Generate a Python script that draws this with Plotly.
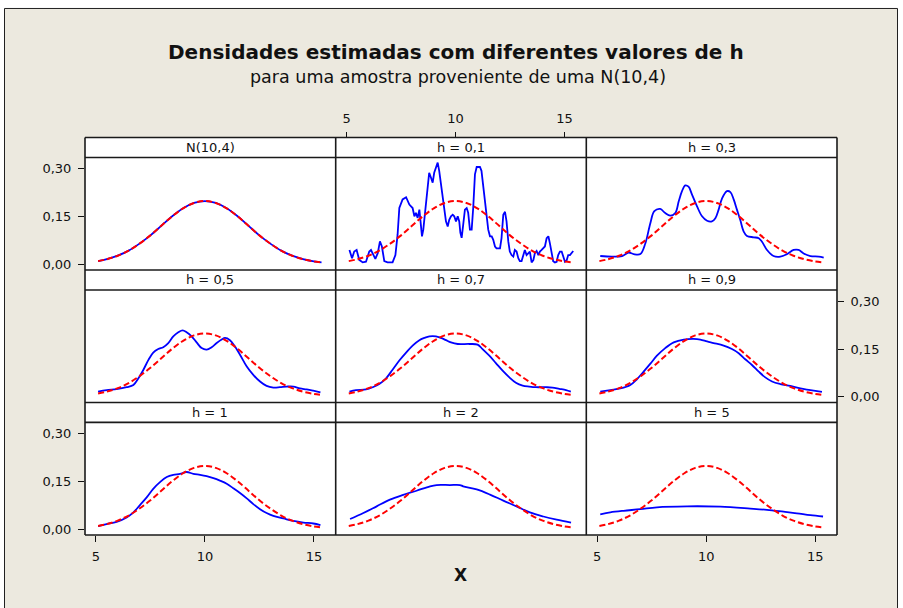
import plotly.graph_objects as go

# ---------------------------------------------------------------- data
# reference density N(10,4) evaluated along the sample range
grid_x = [5.1, 5.5, 6.0, 6.5, 7.0, 7.5, 8.0, 8.5, 9.0, 9.5, 10.0, 10.5,
          11.0, 11.5, 12.0, 12.5, 13.0, 13.5, 14.0, 14.5, 15.0, 15.35]
true_density = [0.010, 0.016, 0.027, 0.043, 0.065, 0.091, 0.121, 0.151,
                0.176, 0.193, 0.199, 0.193, 0.176, 0.151, 0.121, 0.091,
                0.065, 0.043, 0.027, 0.016, 0.009, 0.006]

# kernel density estimates for each bandwidth h
kde_h01_x = [5.13, 5.25, 5.35, 5.46, 5.58, 5.74, 5.89, 6.04, 6.12, 6.23, 6.32,
             6.43, 6.53, 6.62, 6.73, 6.88, 7.11, 7.24, 7.34, 7.42, 7.57, 7.73,
             7.88, 8.03, 8.11, 8.18, 8.26, 8.34, 8.41, 8.46, 8.52, 8.61, 8.72,
             8.79, 8.87, 8.95, 9.02, 9.10, 9.18, 9.25, 9.33, 9.41, 9.48, 9.56,
             9.64, 9.71, 9.79, 9.87, 9.94, 10.02, 10.10, 10.17, 10.22, 10.28,
             10.35, 10.43, 10.51, 10.58, 10.66, 10.74, 10.81, 10.89, 10.97,
             11.12, 11.19, 11.27, 11.35, 11.43, 11.50, 11.58, 11.66, 11.73,
             11.81, 11.88, 12.04, 12.11, 12.19, 12.27, 12.34, 12.42, 12.49,
             12.57, 12.65, 12.72, 12.80, 12.88, 12.95, 13.03, 13.11, 13.18,
             13.26, 13.34, 13.41, 13.49, 13.57, 13.64, 13.72, 13.80, 13.87,
             13.95, 14.03, 14.10, 14.18, 14.26, 14.33, 14.41, 14.48, 14.56,
             14.64, 14.71, 14.79, 14.87, 14.94, 15.02, 15.10, 15.17, 15.25,
             15.33, 15.40]
kde_h01_y = [0.045, 0.019, 0.040, 0.045, 0.014, 0.006, 0.008, 0.040, 0.045,
             0.029, 0.017, 0.035, 0.072, 0.056, 0.010, 0.006, 0.006, 0.029,
             0.093, 0.177, 0.204, 0.211, 0.188, 0.177, 0.151, 0.162, 0.146,
             0.172, 0.109, 0.088, 0.109, 0.177, 0.257, 0.288, 0.273, 0.257,
             0.288, 0.304, 0.320, 0.294, 0.251, 0.199, 0.172, 0.135, 0.119,
             0.140, 0.151, 0.156, 0.151, 0.135, 0.151, 0.135, 0.100, 0.083,
             0.124, 0.172, 0.177, 0.162, 0.109, 0.109, 0.177, 0.283, 0.306,
             0.306, 0.294, 0.241, 0.199, 0.146, 0.109, 0.088, 0.088, 0.077,
             0.056, 0.050, 0.050, 0.082, 0.156, 0.165, 0.135, 0.072, 0.040,
             0.029, 0.024, 0.045, 0.040, 0.019, 0.010, 0.010, 0.029, 0.045,
             0.029, 0.035, 0.040, 0.006, 0.013, 0.035, 0.042, 0.029, 0.040,
             0.045, 0.050, 0.056, 0.082, 0.088, 0.066, 0.029, 0.010, 0.006,
             0.008, 0.029, 0.040, 0.040, 0.024, 0.008, 0.013, 0.029, 0.029,
             0.038, 0.042]

kde_h03_x = [5.14, 5.68, 6.14, 6.44, 6.67, 6.98, 7.21, 7.44, 7.62, 7.89, 8.12,
             8.35, 8.58, 8.74, 8.89, 9.04, 9.19, 9.35, 9.58, 9.81, 10.04,
             10.26, 10.42, 10.57, 10.72, 10.95, 11.11, 11.26, 11.41, 11.56,
             11.72, 11.87, 12.18, 12.41, 12.56, 12.79, 13.09, 13.40, 13.70,
             14.01, 14.24, 14.47, 14.78, 15.16, 15.39]
kde_h03_y = [0.026, 0.024, 0.026, 0.037, 0.032, 0.032, 0.066, 0.130, 0.167,
             0.174, 0.161, 0.153, 0.161, 0.198, 0.230, 0.248, 0.244, 0.219,
             0.182, 0.151, 0.137, 0.135, 0.145, 0.172, 0.206, 0.230, 0.227,
             0.204, 0.172, 0.140, 0.103, 0.089, 0.085, 0.082, 0.071, 0.045,
             0.026, 0.024, 0.032, 0.045, 0.045, 0.034, 0.026, 0.024, 0.021]

kde_h05_x = [5.10, 5.49, 5.95, 6.41, 6.72, 6.95, 7.18, 7.41, 7.63, 7.86, 8.09,
             8.32, 8.55, 8.78, 8.98, 9.16, 9.39, 9.62, 9.85, 10.08, 10.31,
             10.54, 10.77, 10.92, 11.15, 11.38, 11.61, 11.92, 12.22, 12.53,
             12.83, 13.14, 13.44, 13.75, 14.06, 14.36, 14.67, 14.97, 15.30]
kde_h05_y = [0.016, 0.021, 0.024, 0.030, 0.037, 0.058, 0.085, 0.116, 0.139,
             0.150, 0.156, 0.169, 0.190, 0.203, 0.209, 0.203, 0.190, 0.171,
             0.153, 0.148, 0.156, 0.169, 0.180, 0.185, 0.178, 0.158, 0.132,
             0.095, 0.069, 0.048, 0.034, 0.029, 0.030, 0.032, 0.032, 0.026,
             0.023, 0.019, 0.014]

kde_h07_x = [5.13, 5.43, 5.89, 6.20, 6.50, 6.81, 7.11, 7.42, 7.73, 8.03, 8.34,
             8.57, 8.80, 9.10, 9.33, 9.56, 9.79, 10.10, 10.63, 11.01, 11.24,
             11.55, 11.85, 12.16, 12.47, 12.77, 13.08, 13.38, 13.69, 14.15,
             14.45, 14.76, 15.07, 15.29]
kde_h07_y = [0.016, 0.021, 0.023, 0.030, 0.040, 0.058, 0.085, 0.114, 0.139,
             0.161, 0.178, 0.185, 0.190, 0.190, 0.185, 0.178, 0.171, 0.166,
             0.166, 0.164, 0.150, 0.129, 0.106, 0.082, 0.061, 0.044, 0.035,
             0.032, 0.030, 0.030, 0.029, 0.025, 0.021, 0.016]

kde_h09_x = [5.14, 5.60, 6.06, 6.52, 6.82, 7.13, 7.44, 7.74, 8.12, 8.51, 8.97,
             9.42, 9.73, 10.04, 10.34, 10.80, 11.18, 11.49, 11.79, 12.10,
             12.41, 12.71, 13.02, 13.40, 13.86, 14.32, 14.78, 15.31]
kde_h09_y = [0.016, 0.021, 0.026, 0.037, 0.055, 0.079, 0.104, 0.129, 0.153,
             0.171, 0.180, 0.182, 0.180, 0.174, 0.169, 0.161, 0.150, 0.137,
             0.118, 0.100, 0.079, 0.061, 0.048, 0.040, 0.034, 0.026, 0.021,
             0.015]

kde_h1_x = [5.10, 5.49, 5.95, 6.41, 6.72, 7.02, 7.33, 7.63, 7.94, 8.25, 8.55,
            8.86, 9.16, 9.47, 9.78, 10.08, 10.39, 10.69, 11.00, 11.30, 11.61,
            11.92, 12.22, 12.53, 12.83, 13.14, 13.60, 14.06, 14.52, 14.97,
            15.30]
kde_h1_y = [0.010, 0.016, 0.023, 0.037, 0.053, 0.076, 0.100, 0.127, 0.148,
            0.164, 0.171, 0.174, 0.180, 0.174, 0.171, 0.167, 0.161, 0.153,
            0.143, 0.129, 0.114, 0.097, 0.079, 0.063, 0.051, 0.042, 0.034,
            0.026, 0.021, 0.018, 0.013]

kde_h2_x = [5.16, 5.77, 6.38, 6.99, 7.60, 8.21, 8.83, 9.13, 9.74, 10.20,
            10.35, 10.97, 11.58, 12.19, 12.80, 13.41, 14.03, 14.64, 15.30]
kde_h2_y = [0.032, 0.051, 0.072, 0.093, 0.108, 0.121, 0.135, 0.139, 0.139,
            0.139, 0.135, 0.125, 0.109, 0.090, 0.072, 0.053, 0.040, 0.030,
            0.021]

kde_h5_x = [5.14, 5.60, 6.21, 6.98, 7.74, 9.12, 10.65, 12.02, 12.79, 13.55,
            14.16, 14.78, 15.36]
kde_h5_y = [0.047, 0.053, 0.058, 0.063, 0.069, 0.072, 0.071, 0.065, 0.061,
            0.055, 0.050, 0.044, 0.040]

panel_titles = ["N(10,4)", "h = 0,1", "h = 0,3",
                "h = 0,5", "h = 0,7", "h = 0,9",
                "h = 1", "h = 2", "h = 5"]
x_ticks = [5, 10, 15]
x_tick_text = ["5", "10", "15"]
y_ticks = [0.0, 0.15, 0.30]
y_tick_text = ["0,00", "0,15", "0,30"]

title_text = "Densidades estimadas com diferentes valores de h"
subtitle_text = "para uma amostra proveniente de uma N(10,4)"
x_label = "X"

# ---------------------------------------------------------------- layout
W, H = 903, 608
FONT = "DejaVu Sans"
BEIGE = "#ECE9DF"
FRAME = "#1a1a1a"

COL_EDGES = [85.0, 335.7, 586.3, 837.0]
ROW_TOP = 138.0
ROW_H = 132.9
STRIP_H = 20.0
X_RANGE = [4.5, 16.0]
Y_RANGE = [-0.018, 0.336]


def fx(px):
    return px / W


def fy(py):
    return 1.0 - py / H


panels = [
    (grid_x, true_density, "spline"),
    (kde_h01_x, kde_h01_y, "linear"),
    (kde_h03_x, kde_h03_y, "spline"),
    (kde_h05_x, kde_h05_y, "spline"),
    (kde_h07_x, kde_h07_y, "spline"),
    (kde_h09_x, kde_h09_y, "spline"),
    (kde_h1_x, kde_h1_y, "spline"),
    (kde_h2_x, kde_h2_y, "spline"),
    (kde_h5_x, kde_h5_y, "spline"),
]

fig = go.Figure()
layout_axes = {}
shapes = []
annotations = []

# beige page with thin outer frame
shapes.append(dict(type="rect", xref="paper", yref="paper",
                   x0=fx(4.5), x1=fx(897.5), y0=fy(620), y1=fy(8.5),
                   fillcolor=BEIGE, line=dict(color="#202020", width=1),
                   layer="below"))
# white panel area
shapes.append(dict(type="rect", xref="paper", yref="paper",
                   x0=fx(COL_EDGES[0]), x1=fx(COL_EDGES[3]),
                   y0=fy(ROW_TOP + 3 * ROW_H), y1=fy(ROW_TOP),
                   fillcolor="white", line=dict(width=0), layer="below"))

tick_font = dict(family=FONT, size=13, color="#111")

for i, (px_, py_, shp) in enumerate(panels):
    r, c = divmod(i, 3)
    k = "" if i == 0 else str(i + 1)
    top = ROW_TOP + r * ROW_H
    plot_top = top + STRIP_H
    plot_bot = top + ROW_H

    fig.add_trace(go.Scatter(x=px_, y=py_, mode="lines", line_shape=shp,
                             line=dict(color="#0000FF", width=1.8),
                             xaxis="x" + k, yaxis="y" + k,
                             showlegend=False, hoverinfo="skip"))
    fig.add_trace(go.Scatter(x=grid_x, y=true_density, mode="lines",
                             line_shape="spline",
                             line=dict(color="#FF0000", width=2,
                                       dash="6px,3px"),
                             xaxis="x" + k, yaxis="y" + k,
                             showlegend=False, hoverinfo="skip"))

    xa = dict(domain=[fx(COL_EDGES[c]), fx(COL_EDGES[c + 1])],
              range=X_RANGE, showgrid=False, zeroline=False, showline=False,
              anchor="y" + k, fixedrange=True, showticklabels=False,
              ticks="")
    ya = dict(domain=[fy(plot_bot), fy(plot_top)], range=Y_RANGE,
              showgrid=False, zeroline=False, showline=False,
              anchor="x" + k, fixedrange=True, showticklabels=False,
              ticks="")

    xtick_style = dict(tickvals=x_ticks, ticktext=x_tick_text, ticks="outside",
                       ticklen=6, tickwidth=1, tickcolor="#111",
                       showticklabels=True, tickfont=tick_font,
                       ticklabelstandoff=3)
    ytick_style = dict(tickvals=y_ticks, ticktext=y_tick_text, ticks="outside",
                       ticklen=6, tickwidth=1, tickcolor="#111",
                       showticklabels=True, tickfont=tick_font,
                       ticklabelstandoff=4)

    # alternating axes, Minitab panel style
    if r == 2 and c in (0, 2):
        xa.update(xtick_style)
    if r == 0 and c == 1:
        xa.update(xtick_style)
        xa.update(side="top", anchor="free", position=fy(ROW_TOP))
    if c == 0 and r in (0, 2):
        ya.update(ytick_style)
    if c == 2 and r == 1:
        ya.update(ytick_style)
        ya.update(side="right")

    layout_axes["xaxis" + k] = xa
    layout_axes["yaxis" + k] = ya

    # strip label
    annotations.append(dict(text=panel_titles[i], xref="paper", yref="paper",
                            x=fx((COL_EDGES[c] + COL_EDGES[c + 1]) / 2),
                            y=fy(top + STRIP_H / 2), xanchor="center",
                            yanchor="middle", showarrow=False,
                            font=dict(family=FONT, size=13, color="#111")))

# panel frame lines
line_style = dict(color=FRAME, width=1.6)
for r in range(3):
    top = ROW_TOP + r * ROW_H
    for yy in (top, top + STRIP_H):
        shapes.append(dict(type="line", xref="paper", yref="paper",
                           x0=fx(COL_EDGES[0]), x1=fx(COL_EDGES[3]),
                           y0=fy(yy), y1=fy(yy), line=line_style,
                           layer="above"))
shapes.append(dict(type="line", xref="paper", yref="paper",
                   x0=fx(COL_EDGES[0]), x1=fx(COL_EDGES[3]),
                   y0=fy(ROW_TOP + 3 * ROW_H), y1=fy(ROW_TOP + 3 * ROW_H),
                   line=line_style, layer="above"))
for xx in COL_EDGES:
    shapes.append(dict(type="line", xref="paper", yref="paper",
                       x0=fx(xx), x1=fx(xx), y0=fy(ROW_TOP + 3 * ROW_H),
                       y1=fy(ROW_TOP), line=line_style, layer="above"))

# titles and axis label
annotations.append(dict(text="<b>" + title_text + "</b>", xref="paper",
                        yref="paper", x=fx(456), y=fy(52), xanchor="center",
                        yanchor="middle", showarrow=False,
                        font=dict(family=FONT, size=20, color="#111")))
annotations.append(dict(text=subtitle_text, xref="paper", yref="paper",
                        x=fx(458), y=fy(77), xanchor="center",
                        yanchor="middle", showarrow=False,
                        font=dict(family=FONT, size=17.5, color="#111")))
annotations.append(dict(text="<b>" + x_label + "</b>", xref="paper",
                        yref="paper", x=fx(460), y=fy(577), xanchor="center",
                        yanchor="middle", showarrow=False,
                        font=dict(family=FONT, size=17, color="#111")))

fig.update_layout(
    width=W, height=H,
    margin=dict(l=0, r=0, t=0, b=0),
    paper_bgcolor="white",
    plot_bgcolor="rgba(0,0,0,0)",
    shapes=shapes,
    annotations=annotations,
    showlegend=False,
    **layout_axes,
)

fig.write_html("out.html", config={"displayModeBar": False})
